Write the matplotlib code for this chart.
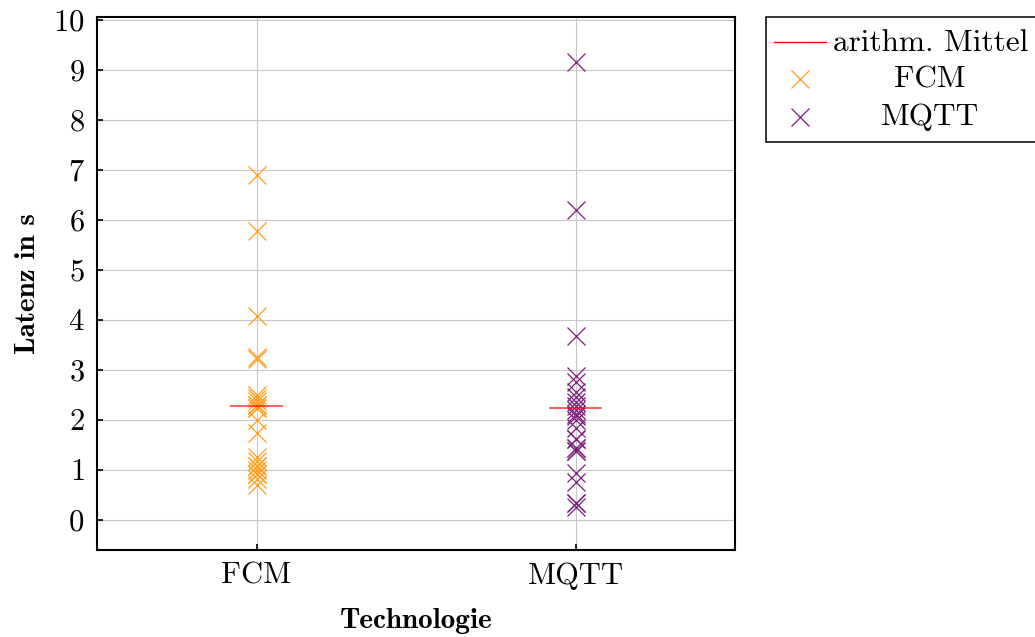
import matplotlib
matplotlib.use("Agg")
import matplotlib.pyplot as plt
from matplotlib.lines import Line2D
from matplotlib.patches import Rectangle
import numpy as np

# Latency measurements (seconds) per technology
categories = ["FCM", "MQTT"]
fcm_latency = [6.90, 5.78, 4.07, 3.25, 3.22, 2.49, 2.43, 2.37, 2.30, 2.30,
               2.23, 2.23, 2.00, 1.73, 1.25, 1.17, 1.08, 1.08, 1.00, 0.92,
               0.92, 0.82, 0.70]
mqtt_latency = [9.16, 6.20, 3.68, 2.88, 2.75, 2.56, 2.45, 2.36, 2.28, 2.20,
                2.12, 1.99, 1.83, 1.62, 1.43, 1.38, 0.93, 0.75, 0.33, 0.26,
                1.43, 1.38, 1.62, 0.33, 2.08]
y_ticks = list(range(0, 11))
legend_labels = ["arithm. Mittel", "FCM", "MQTT"]

colors = {"FCM": "#ff9d1a", "MQTT": "#7d1a7d"}
mean_color = "#ff0000"

plt.rcParams["font.family"] = "cmr10"
plt.rcParams["axes.formatter.use_mathtext"] = True
plt.rcParams["mathtext.fontset"] = "cm"

W, H = 1035, 637
fig = plt.figure(figsize=(W / 100, H / 100), dpi=100)
ax = fig.add_axes([97 / W, 1 - 550 / H, (735 - 97) / W, (550 - 17) / H])

series = [fcm_latency, mqtt_latency]
for i, (name, vals) in enumerate(zip(categories, series)):
    xs = np.full(len(vals), i)
    ax.plot(xs, vals, linestyle="none", marker="x", markersize=13.5,
            markeredgewidth=0.9, color=colors[name], zorder=3)
    m = np.mean(vals)
    ax.hlines(m, i - 0.083, i + 0.083, color=mean_color, linewidth=1.1,
              alpha=0.8, zorder=4)

ax.set_xlim(-0.5, 1.5)
ax.set_ylim(-0.61, 10.06)
ax.set_xticks(range(len(categories)))
ax.set_xticklabels(categories)
ax.set_yticks(y_ticks)
ax.grid(True, color="#c8c8c8", linewidth=0.8, zorder=0)
ax.set_axisbelow(True)

ax.tick_params(axis="both", direction="in", length=4, width=1.2,
               labelsize=22, pad=9)
for sp in ax.spines.values():
    sp.set_linewidth(1.5)

ax.set_xlabel("Technologie", fontfamily="cmb10", fontsize=21, labelpad=13)
ax.set_ylabel("Latenz in s", fontfamily="cmb10", fontsize=21, labelpad=9)


def fp(x, y):
    return (x / W, 1 - y / H)


# Legend drawn in figure coordinates with centred labels
box_x0, box_y0, box_x1, box_y1 = 766, 17, 1040, 142
fig.add_artist(Rectangle(fp(box_x0, box_y1), (box_x1 - box_x0) / W,
                         (box_y1 - box_y0) / H, transform=fig.transFigure,
                         facecolor="white", edgecolor="black", linewidth=1.1,
                         zorder=5))
x0, y0 = fp(774, 42)
x1, _ = fp(826, 42)
fig.add_artist(Line2D([x0, x1], [y0, y0], transform=fig.transFigure,
                      color=mean_color, linewidth=1.0, zorder=6))
for yy, name in [(79, "FCM"), (117, "MQTT")]:
    mx, my = fp(800, yy)
    fig.add_artist(Line2D([mx], [my], transform=fig.transFigure,
                          linestyle="none", marker="x", markersize=13.5,
                          markeredgewidth=0.9, color=colors[name], zorder=6))

tx, ty = fp(833, 51)
fig.text(tx, ty, legend_labels[0], fontsize=22.5, ha="left", va="baseline",
         zorder=7)
for yy, lab in [(88, legend_labels[1]), (125, legend_labels[2])]:
    tx, ty = fp(930, yy)
    fig.text(tx, ty, lab, fontsize=22.5, ha="center", va="baseline", zorder=7)

fig.savefig("out.png", dpi=100)
